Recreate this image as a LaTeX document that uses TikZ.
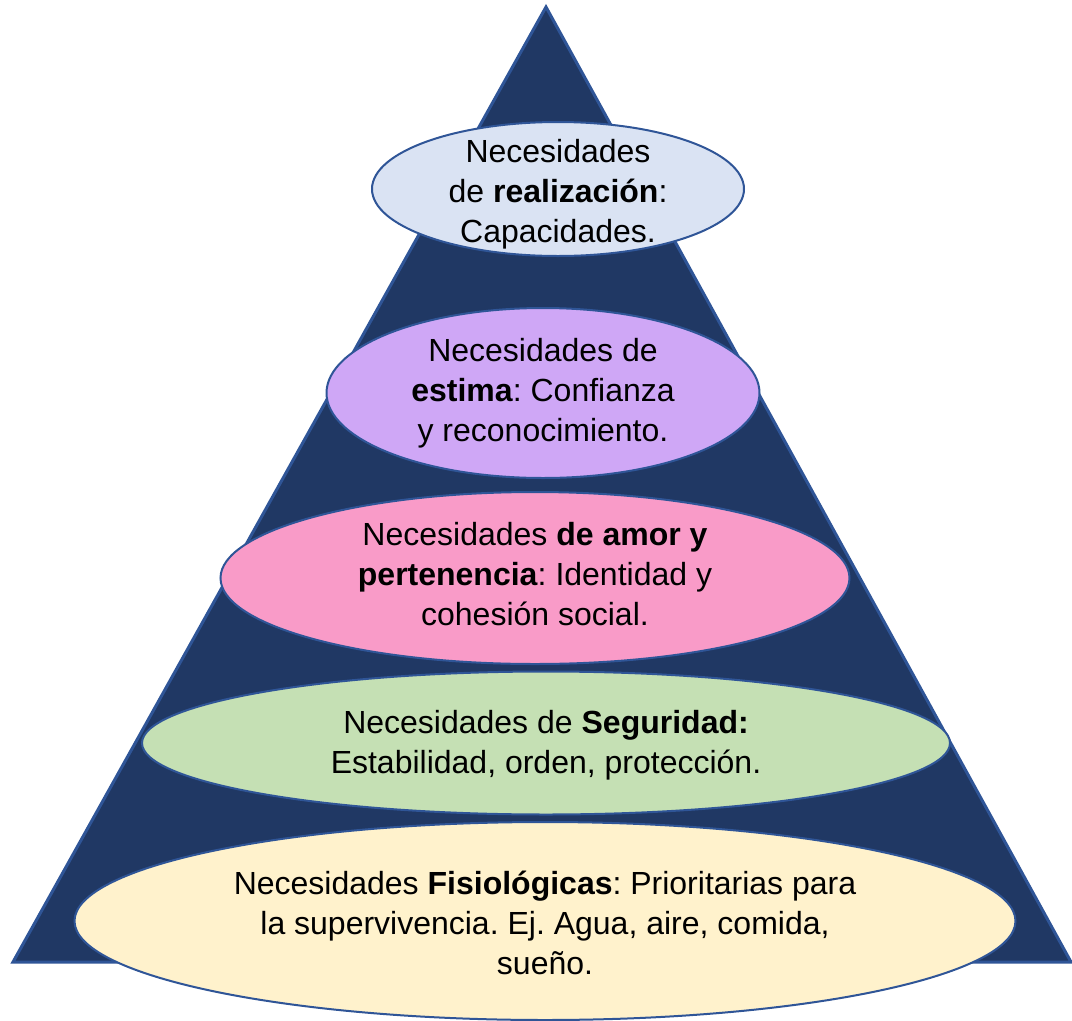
\documentclass[tikz,border=0pt]{standalone}
\usepackage{fontspec}
\setmainfont{Liberation Sans}
\frenchspacing
\usetikzlibrary{shapes.geometric}

\definecolor{navy}{HTML}{203864}
\definecolor{edgeblue}{HTML}{2F5597}
\definecolor{lvlblue}{HTML}{DAE3F3}
\definecolor{lvlpurple}{HTML}{CFA7F6}
\definecolor{lvlpink}{HTML}{F99BC8}
\definecolor{lvlgreen}{HTML}{C5E0B4}
\definecolor{lvlyellow}{HTML}{FFF2CC}

\tikzset{
    level/.style={ellipse, draw=edgeblue, line width=2pt, inner sep=0pt},
    leveltext/.style={inner sep=0pt, align=center, text=black,
        font=\fontsize{32}{40}\selectfont}
}

\begin{document}
\begin{tikzpicture}[x=1pt, y=-1pt]
    \useasboundingbox (0,0) rectangle (1072,1021);

    \coordinate (apex) at (546,7);
    \coordinate (baseL) at (13,962);
    \coordinate (baseR) at (1071,962);

    \path[draw=edgeblue, line width=3pt, line join=miter, fill=navy] (apex) -- (baseR) -- (baseL) -- cycle;

    % levels of the pyramid, top to bottom
    \node[level, fill=lvlblue, minimum width=372pt, minimum height=134pt] (real) at (558,189) {};
    \node[leveltext] (realtext) at ([yshift=-5pt]real)
        {Necesidades\\de \textbf{realización}:\\Capacidades.};

    \node[level, fill=lvlpurple, minimum width=433pt, minimum height=170pt] (estima) at (543,393) {};
    \node[leveltext] (estimatext) at (estima)
        {Necesidades de\\\textbf{estima}: Confianza\\y reconocimiento.};

    \node[level, fill=lvlpink, minimum width=629pt, minimum height=172pt] (amor) at (535,578) {};
    \node[leveltext] (amortext) at ([yshift=4pt]amor)
        {Necesidades \textbf{de amor y}\\\textbf{pertenencia}: Identidad y\\cohesión social.};

    \node[level, fill=lvlgreen, minimum width=808pt, minimum height=143pt] (segur) at (546,743) {};
    \node[leveltext] (segurtext) at ([yshift=-2pt]segur)
        {Necesidades de \textbf{Seguridad:}\\Estabilidad, orden, protección.};

    \node[level, fill=lvlyellow, minimum width=941pt, minimum height=198pt] (fisio) at (545,921) {};
    \node[leveltext] (fisiotext) at ([yshift=-2pt]fisio)
        {Necesidades \textbf{Fisiológicas}: Prioritarias para\\la supervivencia. Ej. Agua, aire, comida,\\sueño.};

\end{tikzpicture}
\end{document}
